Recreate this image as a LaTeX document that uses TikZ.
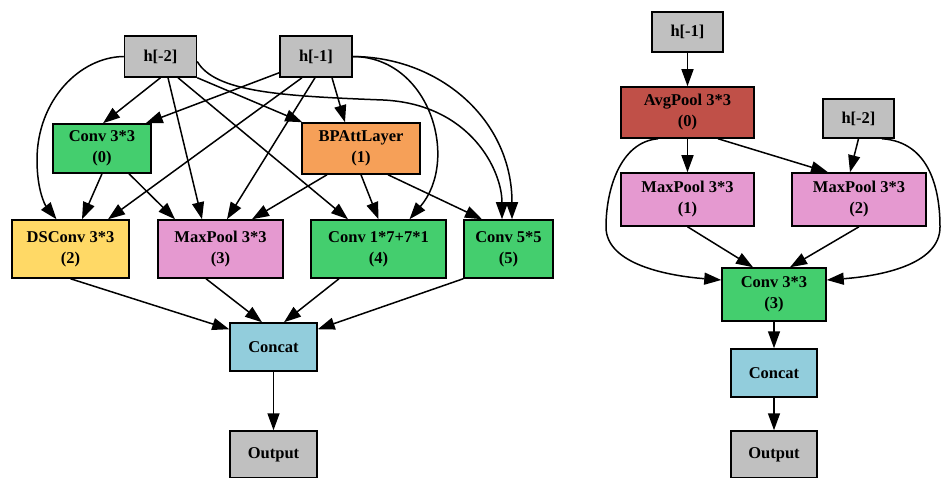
\documentclass[tikz,border=0pt]{standalone}
\usepackage{fontspec}
\setmainfont{Liberation Serif}
\usetikzlibrary{arrows.meta}
\definecolor{ingray}{RGB}{192,192,192}
\definecolor{opgreen}{RGB}{68,206,110}
\definecolor{oporange}{RGB}{246,160,88}
\definecolor{opyellow}{RGB}{255,217,102}
\definecolor{oppink}{RGB}{229,153,208}
\definecolor{opblue}{RGB}{146,205,220}
\definecolor{opred}{RGB}{192,80,72}
\begin{document}
\begin{tikzpicture}[x=1pt, y=-1pt,
  box/.style = {draw, line width=1.5pt, inner sep=0pt, align=center,
    font=\fontsize{16.5}{21}\selectfont\bfseries},
  inbox/.style = {box, fill=ingray, minimum width=72pt, minimum height=41pt},
  catbox/.style = {box, fill=opblue, minimum width=87pt, minimum height=48pt},
  outbox/.style = {box, fill=ingray, minimum width=87pt, minimum height=47pt},
  edge/.style = {line width=1.5pt, -{Triangle[length=17pt, width=12pt]}}]

\useasboundingbox (0,0) rectangle (942,478);

% left cell
\node[inbox] (h2) at (160.5,56.5) {h[-2]};
\node[inbox] (h1) at (316,56.5) {h[-1]};
\node[box, fill=opgreen, minimum width=98pt, minimum height=49pt] (c0) at (102,148.5) {Conv 3*3\\(0)};
\node[box, fill=oporange, minimum width=118pt, minimum height=51pt] (c1) at (361,148.5) {BPAttLayer\\(1)};
\node[box, fill=opyellow, minimum width=117pt, minimum height=58pt] (c2) at (70.5,249) {DSConv 3*3\\(2)};
\node[box, fill=oppink, minimum width=125pt, minimum height=58pt] (c3) at (220.5,249) {MaxPool 3*3\\(3)};
\node[box, fill=opgreen, minimum width=135pt, minimum height=58pt] (c4) at (378.5,249) {Conv 1*7+7*1\\(4)};
\node[box, fill=opgreen, minimum width=89pt, minimum height=58pt] (c5) at (508.5,249) {Conv 5*5\\(5)};
\node[catbox] (cat) at (273.5,347) {Concat};
\node[outbox] (out) at (273.5,454.5) {Output};

\draw[edge] (h2.south) -- ([xshift=1]c0.north);
\draw[edge] ([xshift=7.5]h2.south) -- ([xshift=-18.5]c3.north);
\draw[edge] ([xshift=17.5]h2.south) -- ([xshift=-30.5]c4.north);
\draw[edge] (h2.south east) -- ([xshift=1]c1.north west);
\draw[edge] (h2.west) .. controls (80,57) and (37,100) .. (37,160)
  .. controls (37,190) and (45,205) .. ([xshift=-14]c2.north);
\draw[edge] ([yshift=-5]h2.east) .. controls (215,92) and (280,96) .. (383,100)
  .. controls (470,104) and (502,170) .. ([xshift=-6.5]c5.north);
\draw[edge] (h1.east) .. controls (440,57) and (512,120) .. ([xshift=3.5]c5.north);
\draw[edge] (h1.east) .. controls (430,57) and (460,160) .. ([xshift=31]c4.north);
\draw[edge] ([yshift=5]h1.south west) -- ([xshift=-6]c0.north east);
\draw[edge] ([xshift=-14]h1.south) -- ([xshift=37.5]c2.north);
\draw[edge] ([xshift=-1]h1.south) -- ([xshift=6.5]c3.north);
\draw[edge] ([xshift=16]h1.south) -- ([xshift=-16]c1.north);

\draw[edge] (c0.south) -- ([xshift=11.5]c2.north);
\draw[edge] ([xshift=27]c0.south) -- ([xshift=-45.5]c3.north);
\draw[edge] ([xshift=-34]c1.south) -- ([xshift=31.5]c3.north);
\draw[edge] (c1.south) -- (c4.north);
\draw[edge] ([xshift=27]c1.south) -- ([xshift=-26.5]c5.north);

\draw[edge] (c2.south) -- ([yshift=-7]cat.north west);
\draw[edge] ([xshift=-14.5]c3.south) -- ([xshift=-11.5]cat.north);
\draw[edge] ([xshift=-39.5]c4.south) -- ([xshift=10.5]cat.north);
\draw[edge] (c5.south west) -- ([yshift=-7]cat.north east);
\draw[edge] (cat) -- (out);

% right cell
\node[inbox, minimum width=71pt, minimum height=40pt] (rh1) at (687.5,32) {h[-1]};
\node[box, fill=opred, minimum width=133pt, minimum height=51pt] (r0) at (687.5,112.5) {AvgPool 3*3\\(0)};
\node[inbox, minimum width=71pt, minimum height=39pt] (rh2) at (858.5,118.5) {h[-2]};
\node[box, fill=oppink, minimum width=133pt, minimum height=53pt] (r1) at (687.5,199.5) {MaxPool 3*3\\(1)};
\node[box, fill=oppink, minimum width=134pt, minimum height=53pt] (r2) at (859,199.5) {MaxPool 3*3\\(2)};
\node[box, fill=opgreen, minimum width=104pt, minimum height=53pt] (r3) at (774,294.5) {Conv 3*3\\(3)};
\node[catbox, minimum width=86pt] (rcat) at (774,373) {Concat};
\node[outbox, minimum width=86pt] (rout) at (774,454.5) {Output};

\draw[edge] (rh1) -- (r0);
\draw[edge] (r0) -- (r1);
\draw[edge] ([xshift=30.5]r0.south) -- ([xshift=-31]r2.north);
\draw[edge] (rh2.south) -- ([xshift=-9]r2.north);
\draw[edge] ([xshift=-29.5]r0.south) .. controls (620,142) and (606,190) .. (606,227)
  .. controls (606,265) and (670,276) .. ([yshift=14.5]r3.west);
\draw[edge] ([xshift=23.5]rh2.south) .. controls (930,142) and (940,190) .. (940,227)
  .. controls (940,265) and (880,276) .. ([yshift=14.5]r3.east);
\draw[edge] (r1.south) -- ([xshift=-21]r3.north);
\draw[edge] (r2.south) -- ([xshift=16]r3.north);
\draw[edge] (r3) -- (rcat);
\draw[edge] (rcat) -- (rout);
\end{tikzpicture}
\end{document}
